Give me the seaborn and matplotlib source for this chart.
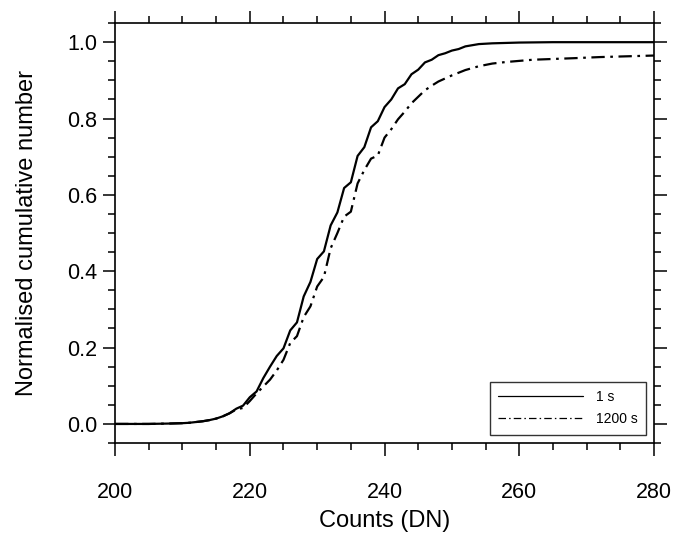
import numpy as np
import pandas as pd
import matplotlib
matplotlib.use("Agg")
import matplotlib.pyplot as plt
import seaborn as sns
from matplotlib.lines import Line2D
from matplotlib.ticker import MultipleLocator, FormatStrFormatter

# values
counts_1s = [200, 205, 208, 210, 211, 212, 213, 214, 215, 216, 217, 218, 219, 220,
             221, 222, 223, 224, 225, 226, 227, 228, 229, 230, 231, 232, 233, 234,
             235, 236, 237, 238, 239, 240, 241, 242, 243, 244, 245, 246, 247, 248,
             249, 250, 251, 252, 253, 254, 255, 256, 258, 260, 265, 280]
cum_1s = [0.0, 0.0, 0.001, 0.002, 0.003, 0.005, 0.007, 0.010, 0.014, 0.020, 0.028,
          0.040, 0.048, 0.070, 0.085, 0.120, 0.150, 0.178, 0.198, 0.245, 0.266,
          0.334, 0.372, 0.432, 0.452, 0.520, 0.554, 0.618, 0.633, 0.702, 0.725,
          0.777, 0.793, 0.830, 0.850, 0.879, 0.890, 0.916, 0.928, 0.947, 0.954,
          0.966, 0.971, 0.978, 0.982, 0.989, 0.992, 0.995, 0.996, 0.997, 0.998,
          0.999, 1.0, 1.0]

counts_1200s = [200, 205, 208, 210, 211, 212, 213, 214, 215, 216, 217, 218, 219, 220,
                221, 222, 223, 224, 225, 226, 227, 228, 229, 230, 231, 232, 233, 234,
                235, 236, 237, 238, 239, 240, 241, 242, 243, 244, 245, 246, 247, 248,
                249, 250, 251, 252, 254, 256, 258, 260, 262, 265, 268, 272, 276, 280]
cum_1200s = [0.0, 0.0, 0.001, 0.002, 0.003, 0.005, 0.007, 0.010, 0.014, 0.020, 0.028,
             0.038, 0.042, 0.060, 0.080, 0.098, 0.116, 0.140, 0.168, 0.212, 0.230,
             0.280, 0.308, 0.360, 0.385, 0.460, 0.500, 0.543, 0.556, 0.630, 0.665,
             0.695, 0.703, 0.750, 0.772, 0.798, 0.818, 0.840, 0.857, 0.874, 0.886,
             0.897, 0.905, 0.913, 0.920, 0.927, 0.937, 0.944, 0.948, 0.951, 0.954,
             0.956, 0.958, 0.961, 0.963, 0.965]

labels = ["1 s", "1200 s"]

sns.set_style("ticks")
plt.rcParams["font.family"] = ["Liberation Sans", "DejaVu Sans"]
plt.rcParams["text.color"] = "black"
plt.rcParams["axes.labelcolor"] = "black"
plt.rcParams["xtick.color"] = "black"
plt.rcParams["ytick.color"] = "black"

df1 = pd.DataFrame({"counts": counts_1s, "cum": cum_1s})
df2 = pd.DataFrame({"counts": counts_1200s, "cum": cum_1200s})

fig = plt.figure(figsize=(6.77, 5.37), dpi=100)
ax = fig.add_axes([0.170, 0.175, 0.796, 0.782])

sns.lineplot(data=df1, x="counts", y="cum", ax=ax, color="black", lw=1.6)
sns.lineplot(data=df2, x="counts", y="cum", ax=ax, color="black", lw=1.6)
ax.lines[-1].set_dashes((6, 2.5, 1.2, 2.5))

ax.set_xlim(200, 280)
ax.set_ylim(-0.05, 1.05)
ax.xaxis.set_major_locator(MultipleLocator(20))
ax.xaxis.set_minor_locator(MultipleLocator(5))
ax.yaxis.set_major_locator(MultipleLocator(0.2))
ax.yaxis.set_minor_locator(MultipleLocator(0.05))
ax.yaxis.set_major_formatter(FormatStrFormatter("%.1f"))

ax.tick_params(which="both", direction="out", top=True, right=True,
               color="black", width=1.1)
ax.tick_params(which="major", length=9)
ax.tick_params(which="minor", length=5)
ax.tick_params(axis="x", which="major", labelsize=15.5, pad=19)
ax.tick_params(axis="y", which="major", labelsize=15.5, pad=4)
for s in ax.spines.values():
    s.set_linewidth(1.2)
    s.set_color("black")

ax.set_xlabel("Counts (DN)", fontsize=17, labelpad=5)
ax.set_ylabel("Normalised cumulative number", fontsize=17, labelpad=21)

handles = [Line2D([], [], color="black", lw=0.9),
           Line2D([], [], color="black", lw=0.9, dashes=(6, 2.5, 1.2, 2.5))]
leg = ax.legend(handles, labels, loc="lower right", fontsize=10, frameon=True,
                fancybox=False, edgecolor="black", handlelength=6.1,
                borderpad=0.6, labelspacing=0.6, handletextpad=0.9,
                borderaxespad=0.6)
leg.get_frame().set_linewidth(1.0)

fig.savefig("out.png", dpi=100)
